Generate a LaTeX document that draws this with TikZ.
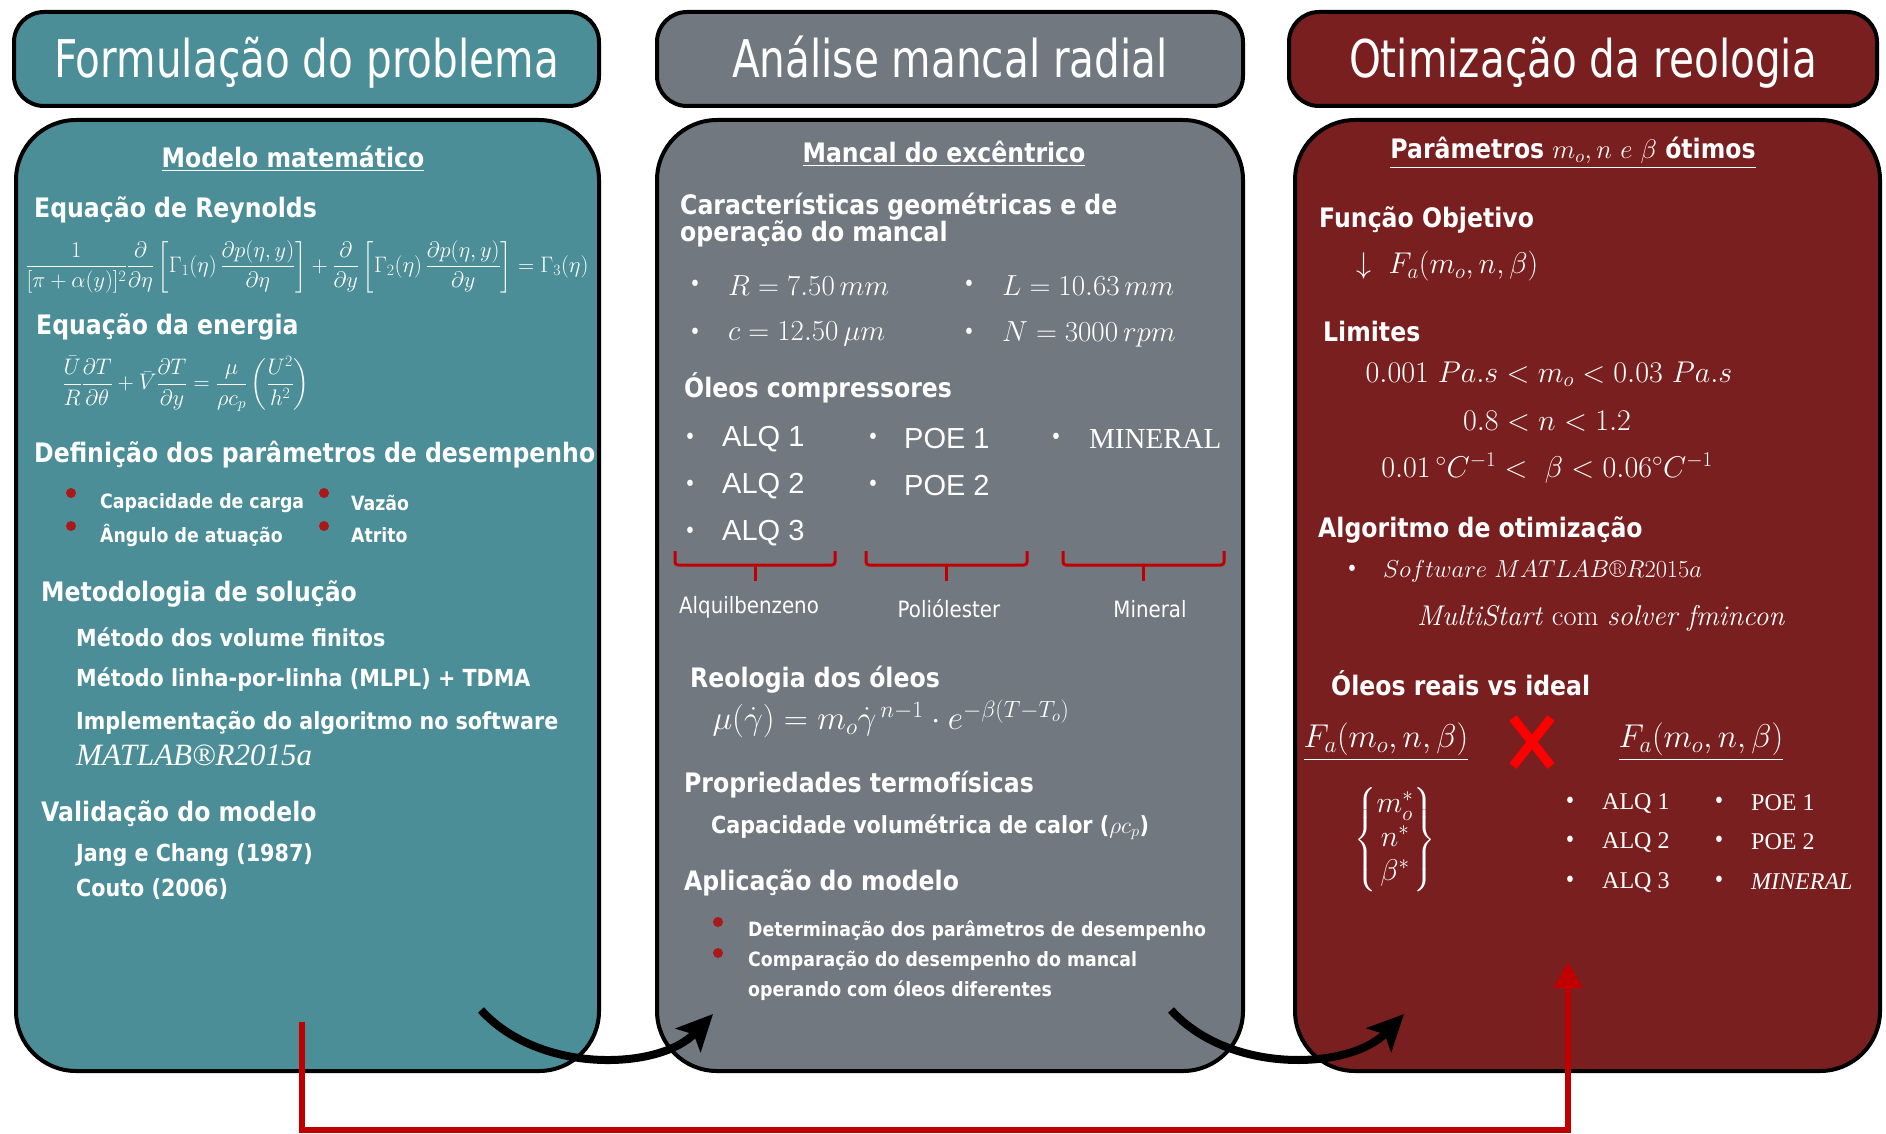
\RequirePackage{fix-cm}
\documentclass[tikz,border=0pt]{standalone}
\usepackage{amsmath}
\usepackage{fontspec}
\newfontfamily\headfont[FakeStretch=0.78]{DejaVu Sans}
\newfontfamily\bodyfont[FakeStretch=0.88]{DejaVu Sans}
\newfontfamily\arialfont{Liberation Sans}
\newfontfamily\timesfont{Liberation Serif}
\usetikzlibrary{arrows.meta}

\definecolor{tealbox}{RGB}{75,142,151}
\definecolor{graybox}{RGB}{114,120,127}
\definecolor{redbox}{RGB}{121,31,31}
\definecolor{dotred}{RGB}{170,25,25}
\definecolor{linkred}{RGB}{192,0,0}
\definecolor{xred}{RGB}{255,0,0}

\tikzset{
  headbox/.style={draw, line width=4pt, rounded corners=30pt, text=white, text height=42pt, text depth=4pt, font=\headfont\fontsize{52}{56}\selectfont},
  mainbox/.style={draw, line width=4pt, rounded corners=60pt},
  boxtitle/.style={text=white, inner sep=0pt, font=\bodyfont\bfseries\fontsize{26.8}{28}\selectfont},
  sechead/.style={boxtitle, anchor=west},
  entry/.style={text=white, anchor=west, inner sep=0pt, font=\bodyfont\bfseries\fontsize{23.5}{25}\selectfont},
  smallentry/.style={entry, font=\bodyfont\bfseries\fontsize{19.7}{30}\selectfont},
  reddot/.style={circle, fill=dotred, inner sep=0pt, minimum size=10pt},
  wdot/.style={text=white, inner sep=0pt, font=\bodyfont\fontsize{22}{22}\selectfont},
  mathtxt/.style={text=white, inner sep=0pt, font=\fontsize{26}{30}\selectfont},
  oil/.style={text=white, anchor=west, inner sep=0pt, font=\arialfont\fontsize{29}{30}\selectfont},
  serifoil/.style={text=white, anchor=west, inner sep=0pt, font=\timesfont\fontsize{24}{26}\selectfont},
  grouplbl/.style={text=white, inner sep=0pt, font=\bodyfont\fontsize{22.5}{24}\selectfont},
  oilbrace/.style={draw=linkred, line width=3pt, rounded corners=3pt},
  crossmark/.style={draw=xred, line width=9pt},
  flow/.style={line width=8pt, -{Stealth[length=36pt,width=34pt,inset=8pt]}},
  feedback/.style={draw=linkred, line width=6pt, -{Triangle[length=26pt,width=28pt]}}
}

\begin{document}
\begin{tikzpicture}[x=1pt,y=-1pt]
\useasboundingbox (0,0) rectangle (1886,1134);

\node[headbox, fill=tealbox, minimum width=585pt, minimum height=94pt] (h1) at (306.5,59) {Formulação do problema};
\node[headbox, fill=graybox, minimum width=586pt, minimum height=94pt] (h2) at (950,59) {Análise mancal radial};
\node[headbox, fill=redbox, minimum width=588pt, minimum height=94pt] (h3) at (1583,59) {Otimização da reologia};

\node[mainbox, fill=tealbox, minimum width=583pt, minimum height=951pt] (m1) at (307.5,595.5) {};
\node[mainbox, fill=graybox, minimum width=586pt, minimum height=951pt] (m2) at (950,595.5) {};
\node[mainbox, fill=redbox, minimum width=585pt, minimum height=951pt] (m3) at (1587.5,595.5) {};

% Formulacao do problema
\node[boxtitle] (t1) at (293,159) {\underline{Modelo matemático}};
\node[sechead] (s11) at (34,210) {Equação de Reynolds};
\node[mathtxt] (e11) at (307,267) {\resizebox{563pt}{!}{$\dfrac{1}{[\pi+\alpha(y)]^2}\dfrac{\partial}{\partial\eta}\left[\Gamma_1(\eta)\,\dfrac{\partial p(\eta,y)}{\partial\eta}\right]+\dfrac{\partial}{\partial y}\left[\Gamma_2(\eta)\,\dfrac{\partial p(\eta,y)}{\partial y}\right]=\Gamma_3(\eta)$}};
\node[sechead] (s12) at (36,327) {Equação da energia};
\node[mathtxt] (e12) at (186,384) {\resizebox{247pt}{!}{$\dfrac{\bar U}{R}\dfrac{\partial T}{\partial\theta}+\bar V\dfrac{\partial T}{\partial y}=\dfrac{\mu}{\rho c_p}\left(\dfrac{U^2}{h^2}\right)$}};
\node[sechead] (s13) at (34,455) {Definição dos parâmetros de desempenho};
\node[reddot] (d11) at (71,493) {};
\node[smallentry] (i11) at (100,503) {Capacidade de carga};
\node[reddot] (d12) at (71,526) {};
\node[smallentry] (i12) at (100,535) {Ângulo de atuação};
\node[reddot] (d13) at (324,493) {};
\node[smallentry] (i13) at (351,503) {Vazão};
\node[reddot] (d14) at (324,526) {};
\node[smallentry] (i14) at (351,535) {Atrito};
\node[sechead] (s14) at (41,594) {Metodologia de solução};
\node[entry] (i15) at (76,637) {Método dos volume finitos};
\node[entry] (i16) at (76,680) {Método linha-por-linha (MLPL) + TDMA};
\node[entry] (i17) at (76,723) {Implementação do algoritmo no software};
\node[entry, font=\timesfont\itshape\fontsize{31}{33}\selectfont] (i18) at (76,755) {MATLAB®R2015a};
\node[sechead] (s15) at (41,814) {Validação do modelo};
\node[entry] (i19) at (76,855) {Jang e Chang (1987)};
\node[entry] (i20) at (76,889) {Couto (2006)};

% Analise mancal radial
\node[boxtitle] (t2) at (944,154) {\underline{Mancal do excêntrico}};
\node[sechead, align=left, font=\bodyfont\bfseries\fontsize{26.8}{26}\selectfont] (s21) at (680,220) {Características geométricas e de\\operação do mancal};
\node[wdot] (b21) at (695,286) {\textbullet};
\node[mathtxt, anchor=west, font=\fontsize{29}{32}\selectfont] (p21) at (728,286) {$R = 7.50\,mm$};
\node[wdot] (b22) at (969,286) {\textbullet};
\node[mathtxt, anchor=west, font=\fontsize{29}{32}\selectfont] (p22) at (1002,286) {$L = 10.63\,mm$};
\node[wdot] (b23) at (695,334) {\textbullet};
\node[mathtxt, anchor=west, font=\fontsize{29}{32}\selectfont] (p23) at (728,334) {$c = 12.50\,\mu m$};
\node[wdot] (b24) at (969,334) {\textbullet};
\node[mathtxt, anchor=west, font=\fontsize{29}{32}\selectfont] (p24) at (1002,334) {$N = 3000\,rpm$};
\node[sechead] (s22) at (684,388) {Óleos compressores};
\node[wdot] (b25) at (690,439) {\textbullet};
\node[oil] (o21) at (722,439) {ALQ 1};
\node[wdot] (b26) at (690,486) {\textbullet};
\node[oil] (o22) at (722,486) {ALQ 2};
\node[wdot] (b27) at (690,533) {\textbullet};
\node[oil] (o23) at (722,533) {ALQ 3};
\node[wdot] (b28) at (873,439) {\textbullet};
\node[oil] (o24) at (904,439) {POE 1};
\node[wdot] (b29) at (873,486) {\textbullet};
\node[oil] (o25) at (904,486) {POE 2};
\node[wdot] (b30) at (1056,439) {\textbullet};
\node[oil, font=\timesfont\fontsize{29}{30}\selectfont] (o26) at (1089,439) {MINERAL};
\foreach \xa/\xb in {675/835,866/1027,1063/1224} {
  \draw[oilbrace] (\xa,551) -- (\xa,565) -- (\xb,565) -- (\xb,551);
  \draw[oilbrace] ({(\xa+\xb)/2},565) -- ++(0,16);
}
\node[grouplbl] (g21) at (749,607) {Alquilbenzeno};
\node[grouplbl] (g22) at (949,609) {Poliólester};
\node[grouplbl] (g23) at (1150,609) {Mineral};
\node[sechead] (s23) at (690,680) {Reologia dos óleos};
\node[mathtxt] (e21) at (891,719) {\resizebox{357pt}{!}{$\mu(\dot\gamma)=m_o\dot{\gamma}^{\,n-1}\cdot e^{-\beta(T-T_o)}$}};
\node[sechead] (s24) at (684,785) {Propriedades termofísicas};
\node[entry] (i21) at (711,827) {Capacidade volumétrica de calor ($\rho c_p$)};
\node[sechead] (s25) at (684,883) {Aplicação do modelo};
\node[reddot] (d21) at (718,922) {};
\node[smallentry] (i22) at (748,931) {Determinação dos parâmetros de desempenho};
\node[reddot] (d22) at (718,953) {};
\node[smallentry, align=left] (i23) at (748,976) {Comparação do desempenho do mancal\\operando com óleos diferentes};

% Otimizacao da reologia
\node[boxtitle] (t3) at (1573,153) {\underline{Parâmetros $m_o, n\ e\ \beta$ ótimos}};
\node[sechead] (s31) at (1319,220) {Função Objetivo};
\node[mathtxt, anchor=west, font=\fontsize{30}{32}\selectfont] (f31) at (1356,266) {$\downarrow\ F_a(m_o,n,\beta)$};
\node[sechead] (s32) at (1323,332) {Limites};
\node[mathtxt, font=\fontsize{30}{32}\selectfont] (l31) at (1549,374) {$0.001\ Pa.s < m_o < 0.03\ Pa.s$};
\node[mathtxt, font=\fontsize{30}{32}\selectfont] (l32) at (1547,421) {$0.8 < n < 1.2$};
\node[mathtxt, font=\fontsize{30}{32}\selectfont] (l33) at (1547,468) {$0.01\,{}^{\circ}C^{-1} <\ \beta < 0.06{}^{\circ}C^{-1}$};
\node[sechead] (s33) at (1318,530) {Algoritmo de otimização};
\node[wdot] (b31) at (1352,571) {\textbullet};
\node[mathtxt, anchor=west, font=\fontsize{24.5}{28}\selectfont] (a31) at (1383,571) {$Software\ MATLAB$\textregistered$R2015a$};
\node[mathtxt, font=\fontsize{28.5}{30}\selectfont] (a32) at (1601,618) {\textit{MultiStart} com \textit{solver fmincon}};
\node[sechead] (s34) at (1331,683) {Óleos reais vs ideal};
\node[mathtxt, font=\fontsize{33}{36}\selectfont] (fa1) at (1386,742) {$\underline{F_a(m_o,n,\beta)}$};
\node[mathtxt, font=\fontsize{33}{36}\selectfont] (fa2) at (1701,742) {$\underline{F_a(m_o,n,\beta)}$};
\draw[crossmark] (1513,718) -- (1551,766);
\draw[crossmark] (1551,718) -- (1513,766);
\node[mathtxt, font=\fontsize{30}{34}\selectfont] (v31) at (1395,840) {$\begin{Bmatrix} m_o^{*}\\ n^{*}\\ \beta^{*}\end{Bmatrix}$};
\node[wdot] (b32) at (1570,803) {\textbullet};
\node[serifoil] (o31) at (1602,803) {ALQ 1};
\node[wdot] (b33) at (1570,842) {\textbullet};
\node[serifoil] (o32) at (1602,842) {ALQ 2};
\node[wdot] (b34) at (1570,882) {\textbullet};
\node[serifoil] (o33) at (1602,882) {ALQ 3};
\node[wdot] (b35) at (1719,803) {\textbullet};
\node[serifoil] (o34) at (1751,803) {POE 1};
\node[wdot] (b36) at (1719,842) {\textbullet};
\node[serifoil] (o35) at (1751,842) {POE 2};
\node[wdot] (b37) at (1719,882) {\textbullet};
\node[serifoil, font=\timesfont\itshape\fontsize{24}{26}\selectfont] (o36) at (1751,882) {MINERAL};

% ligacoes
\coordinate (a1s) at (481,1010);
\coordinate (a1e) at (713,1014);
\coordinate (a2s) at (1171,1010);
\coordinate (a2e) at (1404,1014);
\draw[flow] (a1s) .. controls (540,1075) and (660,1070) .. (a1e);
\draw[flow] (a2s) .. controls (1230,1075) and (1350,1070) .. (a2e);
\coordinate (fbs) at (302,1022);
\coordinate (fbe) at (1568,962);
\draw[feedback] (fbs) -- ++(0,108) -| (fbe);
\end{tikzpicture}
\end{document}
